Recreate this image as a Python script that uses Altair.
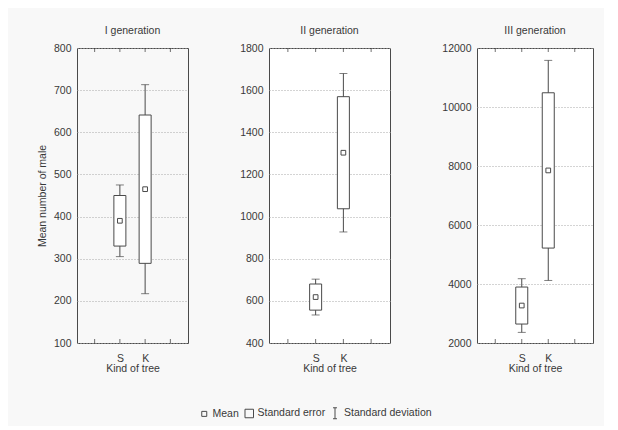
import altair as alt
import pandas as pd

# ---- data ----
gens = ["I generation", "II generation", "III generation"]
kinds = ["S", "K"]
kind_pos = [2, 3]
means = [[390, 465], [618, 1303], [3270, 7850]]
ses = [[60, 176], [62, 266], [627, 2632]]
sds = [[85, 248], [85, 376], [910, 3730]]
y_domains = [[100, 800], [400, 1800], [2000, 12000]]
y_steps = [100, 200, 2000]
x_ticks = [1, 2, 3, 4]
legend_items = ["Mean", "Standard error", "Standard deviation"]

# ---- style ----
FONT = "Liberation Sans"
FS = 10.5
INK = "#383838"
LINE = "#4a4a4a"
widths = [111, 121, 116]
HEIGHT = 295
IPATH = "M-0.36,-1H0.36M0,-1V1M-0.36,1H0.36"


def panel(i):
    df = pd.DataFrame({
        "kind": kinds,
        "pos": kind_pos,
        "mean": means[i],
        "se": ses[i],
        "sd": sds[i],
    })
    df["se_lo"] = df["mean"] - df["se"]
    df["se_hi"] = df["mean"] + df["se"]
    df["sd_lo"] = df["mean"] - df["sd"]
    df["sd_hi"] = df["mean"] + df["sd"]

    lo, hi = y_domains[i]
    yvals = list(range(lo, hi + 1, y_steps[i]))
    xs = alt.Scale(domain=[0.5, 4.5], nice=False, zero=False)
    ys = alt.Scale(domain=[lo, hi], nice=False, zero=False)

    # frame tick positions along the bottom (lo) and top (hi) edges
    bottom_df = pd.DataFrame({"pos": x_ticks, "edge": [lo] * len(x_ticks)})
    top_df = pd.DataFrame({"pos": x_ticks, "edge": [hi] * len(x_ticks)})

    x_axis = alt.Axis(
        orient="bottom", values=x_ticks,
        labelExpr="datum.value == 2 ? 'S' : datum.value == 3 ? 'K' : ''",
        labelOverlap=False, labelFlush=False, labelBound=False,
        ticks=False, domain=False, grid=False,
        labelPadding=10, title="Kind of tree", titlePadding=0,
    )
    y_axis = alt.Axis(
        values=yvals, format="d", ticks=False, domain=False, grid=True,
        gridDash=[1, 2], gridColor="#a8a8a8", labelPadding=6,
        title="Mean number of male" if i == 0 else "", titlePadding=6,
    )

    def X():
        return alt.X("pos:Q", scale=xs, axis=x_axis)

    def Y(field):
        return alt.Y(field, type="quantitative", scale=ys, axis=y_axis)

    base = alt.Chart(df)
    whisker = base.mark_rule(color=LINE, strokeWidth=1).encode(
        x=X(), y=Y("sd_lo"), y2="sd_hi:Q",
    )
    cap_lo = base.mark_tick(orient="horizontal", size=8, thickness=1, color=LINE).encode(
        x=X(), y=Y("sd_lo")
    )
    cap_hi = base.mark_tick(orient="horizontal", size=8, thickness=1, color=LINE).encode(
        x=X(), y=Y("sd_hi")
    )
    box = base.mark_bar(width=12, fill="white", stroke=LINE, strokeWidth=1).encode(
        x=X(), y=Y("se_lo"), y2="se_hi:Q"
    )
    mean_pt = base.mark_point(shape="square", size=22, filled=False, color=LINE,
                              strokeWidth=1, opacity=1).encode(
        x=X(), y=Y("mean")
    )
    ticks_bottom = alt.Chart(bottom_df).mark_tick(
        orient="vertical", size=4, thickness=1, color="#333333", yOffset=-2
    ).encode(x=X(), y=Y("edge"))
    ticks_top = alt.Chart(top_df).mark_tick(
        orient="vertical", size=4, thickness=1, color="#333333", yOffset=2
    ).encode(x=X(), y=Y("edge"))
    layers = [whisker, cap_lo, cap_hi, box, mean_pt, ticks_bottom, ticks_top]

    if i == 0:
        leg_df = pd.DataFrame({"item": legend_items})
        leg = alt.Legend(
            orient="none", legendX=122, legendY=359, direction="horizontal",
            title=None, labelFont=FONT, labelFontSize=10.5, labelColor=INK,
            symbolOpacity=1, symbolStrokeColor=LINE, symbolStrokeWidth=1,
            symbolFillColor="white", columnPadding=3, labelOffset=3,
        )
        legend_layer = alt.Chart(leg_df).mark_point(
            filled=False, color=LINE, opacity=0
        ).encode(
            shape=alt.Shape("item:O", sort=legend_items,
                            scale=alt.Scale(domain=legend_items,
                                            range=["square", "square", IPATH]),
                            legend=leg),
            size=alt.Size("item:O", sort=legend_items,
                          scale=alt.Scale(domain=legend_items, range=[25, 120, 121]),
                          legend=leg),
        )
        layers.append(legend_layer)

    return alt.layer(*layers).properties(
        width=widths[i], height=HEIGHT,
        title=alt.TitleParams(gens[i], font=FONT, fontSize=FS, fontWeight="normal",
                              color=INK, offset=7),
    )


chart = alt.hconcat(panel(0), panel(1), panel(2), spacing=50).properties(
    background="#f8f8f8",
    padding={"left": 28, "top": 17, "right": 10, "bottom": 5},
).configure_view(
    stroke=LINE, strokeWidth=1, fill="white"
).configure_axis(
    labelFont=FONT, labelFontSize=FS, labelColor=INK,
    titleFont=FONT, titleFontSize=FS, titleFontWeight="normal", titleColor=INK,
)

chart.save("out.html", embed_options={"renderer": "svg", "actions": False})
